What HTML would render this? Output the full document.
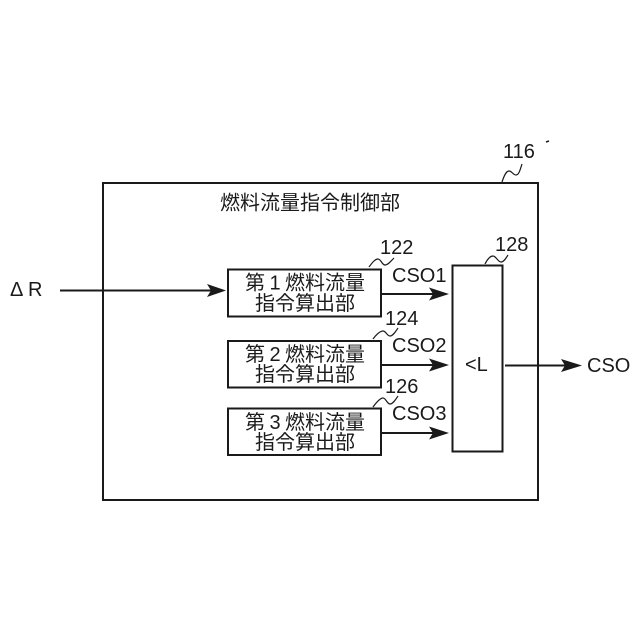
<!DOCTYPE html>
<html>
<head>
<meta charset="utf-8">
<style>
html,body{margin:0;padding:0;background:#fff}
svg{display:block}
text{font-family:"Liberation Sans","Noto Sans CJK JP",sans-serif;fill:#1a1a1a}
.j{font-size:20px;font-weight:400}
.n{font-size:20px}
</style>
</head>
<body>
<svg width="640" height="640" viewBox="0 0 640 640" xmlns="http://www.w3.org/2000/svg">
<g fill="none" stroke="#1a1a1a" stroke-width="2">
<rect x="103" y="183" width="435" height="317"/>
<rect x="228" y="269.500" width="153" height="47"/>
<rect x="228" y="341" width="153" height="46.500"/>
<rect x="228" y="408.500" width="153" height="46.500"/>
<rect x="452.500" y="265.500" width="50" height="186"/>
</g>
<g fill="none" stroke="#1a1a1a" stroke-width="1.200">
<path d="M502 182 C504 176 506 171 509 171 C512 171 513 175 516 175 C519 175 520 170 522 164"/>
<path d="M369 267 C372 263 375 259 378 259 C381 259 382 265 385 265 C388 265 391 261 394 258"/>
<path d="M485 264 C487 260 490 256 493 256 C496 256 498 262 501 262 C504 262 506 258 508 255"/>
<path d="M373 339 C376 335 380 331 383 331 C386 331 387 336 390 336 C393 336 396 331 398 328"/>
<path d="M373 407 C376 403 380 398 383 398 C386 398 387 404 390 404 C393 404 396 399 398 396"/>
<path d="M546 142 L549 141" stroke-width="1.500"/>
</g>
<g stroke="#1a1a1a" stroke-width="2" fill="none">
<path d="M60 290.500H212"/>
<path d="M381 294H435"/>
<path d="M381 365H435"/>
<path d="M381 433H435"/>
<path d="M505 365.500H568"/>
</g>
<g fill="#1a1a1a">
<path d="M207 284L226 290.500L207 297L211 290.500Z"/>
<path d="M429 287.500L449 294L429 300.500L433 294Z"/>
<path d="M429 358.500L449 365L429 371.500L433 365Z"/>
<path d="M429 426.500L449 433L429 439.500L433 433Z"/>
<path d="M561 359L582 365.500L561 372L565 365.500Z"/>
</g>
<text class="j" x="220" y="209.500">燃料流量指令制御部</text>

<text class="j" x="245" y="289.500">第</text><text class="j" x="275" y="289.500" text-anchor="middle">1</text><text class="j" x="285" y="289.500">燃料流量</text>
<text class="j" x="255" y="310">指令算出部</text>
<text class="j" x="245" y="361">第</text><text class="j" x="275" y="361" text-anchor="middle">2</text><text class="j" x="285" y="361">燃料流量</text>
<text class="j" x="255" y="381">指令算出部</text>
<text class="j" x="245" y="429">第</text><text class="j" x="275" y="429" text-anchor="middle">3</text><text class="j" x="285" y="429">燃料流量</text>
<text class="j" x="255" y="449">指令算出部</text>

<text class="n" x="503" y="158">116</text>
<text class="n" x="380" y="254">122</text>
<text class="n" x="495" y="251">128</text>
<text class="n" x="385" y="325">124</text>
<text class="n" x="385" y="393">126</text>
<text class="n" x="392" y="282">CSO1</text>
<text class="n" x="392" y="352">CSO2</text>
<text class="n" x="392" y="420">CSO3</text>
<text class="n" x="587" y="372">CSO</text>
<text class="n" x="465" y="371">&lt;L</text>
<text class="n" x="10" y="296">Δ</text>
<text class="n" x="28" y="296">R</text>
</svg>
</body>
</html>
